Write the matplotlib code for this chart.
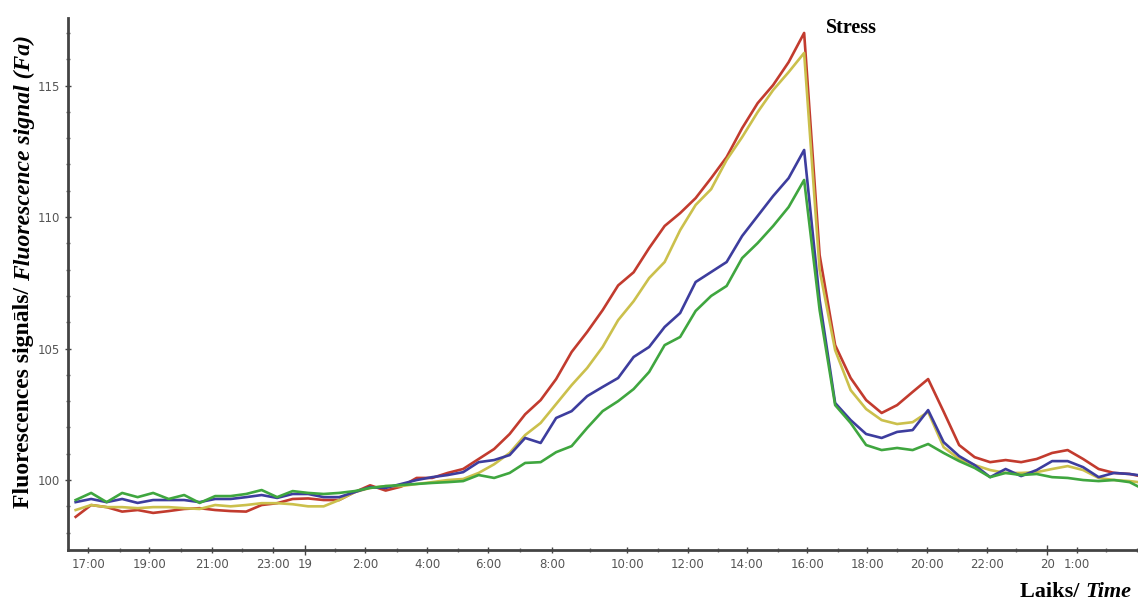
import matplotlib
matplotlib.use("Agg")
import matplotlib.pyplot as plt
import numpy as np

# ── data: four fluorescence traces, one sample every ~30 min ─────────
red = [98.6, 99.05, 98.97, 98.8, 98.86, 98.75, 98.82, 98.9, 98.93, 98.86,
       98.82, 98.8, 99.05, 99.12, 99.28, 99.3, 99.24, 99.24, 99.54, 99.8,
       99.6, 99.75, 100.08, 100.08, 100.27, 100.42, 100.8, 101.18, 101.75, 102.5,
       103.04, 103.84, 104.87, 105.63, 106.46, 107.4, 107.9, 108.82, 109.66, 110.15,
       110.72, 111.48, 112.28, 113.38, 114.33, 115.02, 115.89, 117.0, 108.55, 105.13,
       103.88, 103.04, 102.55, 102.85, 103.35, 103.84, 102.6, 101.33, 100.87, 100.68,
       100.76, 100.68, 100.8, 101.03, 101.14, 100.8, 100.42, 100.27, 100.23, 100.11]

yellow = [98.86, 99.05, 98.97, 98.97, 98.93, 98.97, 98.97, 98.93, 98.9, 99.05,
          99.0, 99.05, 99.12, 99.12, 99.08, 99.0, 99.0, 99.24, 99.54, 99.7,
          99.77, 99.77, 99.85, 99.92, 100.0, 100.04, 100.27, 100.6, 101.03, 101.71,
          102.17, 102.89, 103.61, 104.26, 105.06, 106.08, 106.8, 107.68, 108.29, 109.5,
          110.46, 111.06, 112.17, 113.04, 113.99, 114.83, 115.51, 116.24, 107.98, 104.94,
          103.42, 102.7, 102.28, 102.13, 102.2, 102.59, 101.25, 100.8, 100.57, 100.38,
          100.27, 100.27, 100.3, 100.42, 100.53, 100.38, 100.08, 100.0, 99.96, 99.89]

blue = [99.16, 99.28, 99.16, 99.28, 99.13, 99.24, 99.24, 99.24, 99.16, 99.28,
        99.28, 99.35, 99.43, 99.32, 99.47, 99.47, 99.35, 99.35, 99.54, 99.73,
        99.7, 99.85, 100.0, 100.11, 100.19, 100.3, 100.68, 100.76, 100.95, 101.6,
        101.41, 102.36, 102.62, 103.19, 103.54, 103.88, 104.68, 105.06, 105.82, 106.35,
        107.53, 107.91, 108.29, 109.28, 110.04, 110.8, 111.48, 112.55, 106.84, 102.93,
        102.28, 101.75, 101.6, 101.83, 101.9, 102.66, 101.44, 100.91, 100.57, 100.11,
        100.42, 100.15, 100.38, 100.72, 100.72, 100.49, 100.11, 100.27, 100.23, 100.15]

green = [99.24, 99.51, 99.16, 99.51, 99.35, 99.51, 99.28, 99.43, 99.13, 99.39,
         99.39, 99.47, 99.62, 99.35, 99.58, 99.51, 99.47, 99.51, 99.58, 99.7,
         99.77, 99.81, 99.85, 99.89, 99.92, 99.96, 100.19, 100.08, 100.27, 100.65,
         100.68, 101.06, 101.29, 101.98, 102.62, 103.0, 103.46, 104.11, 105.13, 105.44,
         106.43, 107.0, 107.38, 108.44, 109.01, 109.66, 110.38, 111.41, 106.46, 102.85,
         102.17, 101.33, 101.14, 101.22, 101.14, 101.37, 101.03, 100.72, 100.46, 100.11,
         100.27, 100.19, 100.23, 100.11, 100.08, 100.0, 99.96, 100.0, 99.92, 99.62]

# time labels as shown under the axis (positions in sample numbers)
tick_labels = ["17:00", "19:00", "21:00", "23:00", "19", "2:00", "4:00", "6:00", "8:00",
               "10:00", "12:00", "14:00", "16:00", "18:00", "20:00", "22:00", "20", "1:00"]
tick_pos = [0.8, 4.74, 8.8, 12.74, 14.8, 18.67, 22.67, 26.6, 30.74,
            35.6, 39.5, 43.3, 47.2, 51.07, 54.9, 58.8, 62.7, 64.6]
minor_pos = [2.86, 6.8, 10.74, 16.74, 20.74, 24.67, 28.67, 33.2, 37.6, 41.45,
             45.3, 49.2, 53.0, 56.9, 60.7, 66.5, 68.5]
# ─────────────────────────────────────────────────────────────────

x = np.arange(len(red))

fig = plt.figure(figsize=(11.38, 6.03), dpi=100)
ax = fig.add_axes([0.0598, 0.0879, 0.9402, 0.8823])

lw = 1.9
ax.plot(x, red, color="#c23b2e", lw=lw)
ax.plot(x, yellow, color="#cbc04c", lw=lw)
ax.plot(x, blue, color="#3d3d9e", lw=lw)
ax.plot(x, green, color="#3fa63f", lw=lw)

ax.set_xlim(-0.49, 68.54)
ax.set_ylim(97.34, 117.57)

ax.spines[["top", "right"]].set_visible(False)
for s in ["left", "bottom"]:
    ax.spines[s].set_color("#444444")
    ax.spines[s].set_linewidth(2)

tick_font = dict(family=["Liberation Sans Narrow", "DejaVu Sans"], size=8.5, color="#555555")
ax.set_xticks(tick_pos)
ax.set_xticklabels(tick_labels, **tick_font)
ax.set_xticks(minor_pos, minor=True)
ax.set_yticks([100, 105, 110, 115])
ax.set_yticklabels(["100", "105", "110", "115"], **tick_font)
ax.set_yticks(np.arange(98, 118), minor=True)
ax.tick_params(axis="both", which="major", direction="inout", length=4, width=1,
               color="#444444", pad=4)
ax.tick_params(axis="both", which="minor", direction="inout", length=3, width=1,
               color="#666666")
# day markers get a longer tick
for i in (4, 16):
    ax.xaxis.get_major_ticks()[i].tick1line.set_markersize(7)

serif = ["Liberation Serif", "DejaVu Serif"]

# y label in two styles
t1 = fig.text(24 / 1138, 1 - 508 / 603, "Fluorescences signāls/ ", rotation=90,
              ha="center", va="bottom", family=serif, weight="bold", fontsize=17)
ax.annotate("Fluorescence signal (Fa)", xy=(0.5, 1), xycoords=t1, rotation=90,
            ha="center", va="bottom", family=serif, weight="bold", style="italic",
            fontsize=17, annotation_clip=False)

# x label
t2 = fig.text(1020 / 1138, 1 - 592 / 603, "Laiks/ ", ha="left", va="center",
              family=serif, weight="bold", fontsize=16)
ax.annotate("Time", xy=(1, 0.5), xycoords=t2, ha="left", va="center",
            family=serif, weight="bold", style="italic", fontsize=16,
            annotation_clip=False)

fig.text(826 / 1138, 1 - 28 / 603, "Stress", ha="left", va="center",
         family=serif, weight="bold", fontsize=14.5)

fig.savefig("out.png", dpi=100)
